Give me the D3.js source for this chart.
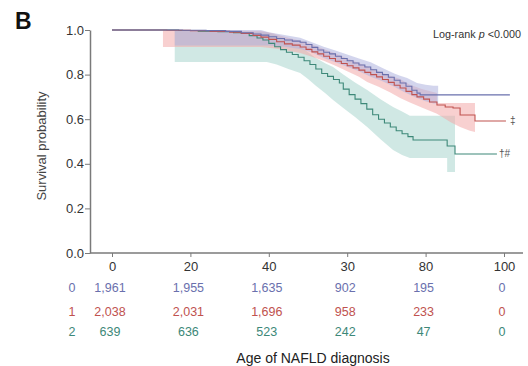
<!DOCTYPE html>
<html>
<head>
<meta charset="utf-8">
<script src="https://cdn.jsdelivr.net/npm/d3@7"></script>
<style>
  body { margin: 0; background: #fff; }
  svg { display: block; font-family: Arial, "Liberation Sans", sans-serif; }
</style>
</head>
<body>
<svg id="chart" width="528" height="366"></svg>
<script>
// x ticks (the source figure prints "30" where 60 should be)
const tickAges = [0, 20, 40, 60, 80, 100];
const tickLabels = ['0', '20', '40', '30', '80', '100'];
const yTicks = [0, 0.2, 0.4, 0.6, 0.8, 1.0];

const groupNames = ['0', '1', '2'];
const groupColors = ['#6a70ad', '#c0524f', '#3d8878'];
const bandColors = ['#aeb3df', '#f2aaaa', '#a9d6cd'];
const endMarks = ['', '‡', '†#'];

// numbers at risk
const atRisk0 = [1961, 1955, 1635, 902, 195, 0];
const atRisk1 = [2038, 2031, 1696, 958, 233, 0];
const atRisk2 = [639, 636, 523, 242, 47, 0];

// KM curves [age, survival]
const surv0 = [[0,1],[18,0.999],[24,0.997],[29,0.994],[33,0.988],[36,0.982],[38,0.977],[40,0.97],[42,0.962],[44,0.955],[46,0.95],[48,0.945],[49.5,0.935],[51,0.922],[52.5,0.91],[54,0.9],[55.5,0.893],[57,0.882],[58.5,0.872],[60,0.862],[61.5,0.852],[63,0.843],[64.5,0.834],[66,0.822],[67.5,0.81],[69,0.8],[70.5,0.788],[72,0.775],[73.5,0.762],[75,0.748],[76.5,0.73],[77.8,0.717],[78.6,0.709],[101.5,0.709]];
const surv1 = [[0,1],[14,0.999],[20,0.997],[25,0.994],[30,0.99],[33,0.985],[36,0.976],[38,0.968],[40,0.958],[42,0.947],[44,0.938],[46,0.932],[48,0.924],[49.5,0.913],[51,0.902],[52.5,0.893],[54,0.882],[55.5,0.872],[57,0.86],[58.5,0.85],[60,0.84],[61.5,0.83],[63,0.82],[64.5,0.81],[66,0.8],[67.5,0.79],[69,0.778],[70.5,0.765],[72,0.752],[73.5,0.74],[75,0.725],[76.5,0.71],[77.8,0.7],[79.5,0.69],[81,0.677],[82.9,0.664],[85,0.655],[87,0.65],[88.8,0.619],[92.6,0.592],[100.5,0.592]];
const surv2 = [[0,1],[17,0.998],[22,0.995],[27,0.992],[31,0.988],[33,0.984],[35,0.975],[37,0.964],[38.5,0.955],[40,0.94],[41.5,0.925],[43,0.912],[44.5,0.9],[46,0.89],[47.5,0.878],[49,0.862],[50.5,0.845],[52,0.825],[53.5,0.805],[55,0.792],[56.5,0.778],[58,0.762],[59,0.735],[60.5,0.71],[62,0.69],[63.5,0.67],[65,0.645],[66.5,0.62],[68,0.6],[69.5,0.583],[71,0.565],[72.5,0.548],[74,0.535],[75.5,0.522],[76.8,0.507],[85.5,0.48],[87.5,0.444],[98.2,0.444]];

// confidence bands [age, lower, upper]
const band0 = [[16,0.93,1],[38,0.93,1],[40,0.93,0.99],[44,0.925,0.978],[48,0.915,0.965],[51,0.9,0.945],[54,0.875,0.925],[57,0.855,0.908],[60,0.835,0.89],[63,0.815,0.872],[66,0.79,0.855],[69,0.77,0.83],[72,0.745,0.805],[73.5,0.731,0.795],[75.3,0.715,0.785],[77.8,0.695,0.762],[80,0.68,0.755],[82,0.67,0.75],[83.2,0.67,0.75]];
const band1 = [[13,0.924,1],[38,0.924,0.995],[41,0.918,0.985],[44,0.91,0.97],[48,0.897,0.952],[51,0.88,0.935],[54,0.862,0.915],[57,0.84,0.895],[60,0.815,0.872],[63,0.79,0.852],[65.1,0.767,0.836],[68,0.745,0.815],[71,0.72,0.795],[73.5,0.695,0.78],[76,0.675,0.755],[79,0.652,0.735],[82.9,0.625,0.717],[82.9,0.625,0.673],[86.5,0.585,0.673],[88.8,0.565,0.673],[91.3,0.548,0.673],[92.6,0.543,0.673]];
const band2 = [[16,0.857,1],[39.5,0.857,0.99],[42,0.845,0.975],[45,0.825,0.955],[48,0.807,0.925],[50,0.78,0.9],[52,0.75,0.875],[54.5,0.715,0.85],[56.4,0.686,0.834],[59,0.65,0.8],[62,0.61,0.765],[65.1,0.565,0.731],[68.5,0.51,0.69],[71.7,0.462,0.655],[74,0.44,0.635],[76,0.426,0.615],[85.5,0.426,0.615],[85.5,0.363,0.615],[87.5,0.363,0.615]];

const survs = [surv0, surv1, surv2];
const bands = [band0, band1, band2];
const atRisk = [atRisk0, atRisk1, atRisk2];

const svg = d3.select('#chart');
const x = d3.scaleLinear().domain([0, 100]).range([112, 504]);
const y = d3.scaleLinear().domain([0, 1]).range([253, 30]);
const axisColor = '#7a7a7a';
const textColor = '#333';

// panel letter
svg.append('text')
  .attr('x', 15).attr('y', 29)
  .attr('font-size', 23).attr('font-weight', 'bold')
  .attr('fill', '#111')
  .text('B');

// bands
const area = d3.area()
  .x(d => x(d[0]))
  .y0(d => y(d[1]))
  .y1(d => y(d[2]));

[2, 1, 0].forEach(i => {
  svg.append('path')
    .attr('d', area(bands[i]))
    .attr('fill', bandColors[i])
    .attr('fill-opacity', 0.55);
});

// curves
const line = d3.line()
  .curve(d3.curveStepAfter)
  .x(d => x(d[0]))
  .y(d => y(d[1]));

[2, 1, 0].forEach(i => {
  svg.append('path')
    .attr('d', line(survs[i]))
    .attr('fill', 'none')
    .attr('stroke', groupColors[i])
    .attr('stroke-width', 1.1);
});

// end markers
[1, 2].forEach(i => {
  const last = survs[i][survs[i].length - 1];
  svg.append('text')
    .attr('x', x(last[0]) + (i === 1 ? 4 : 2))
    .attr('y', y(last[1]) + 3.5)
    .attr('font-size', 10)
    .attr('fill', '#555')
    .text(endMarks[i]);
});

// y axis
const yAxis = svg.append('g')
  .attr('transform', 'translate(90,0)')
  .call(d3.axisLeft(y).tickValues(yTicks).tickFormat(d3.format('.1f')).tickSize(5).tickSizeOuter(0).tickPadding(1));
yAxis.select('.domain').attr('stroke', axisColor).attr('stroke-width', 1.5);
yAxis.selectAll('.tick line').attr('stroke', axisColor);
yAxis.selectAll('.tick text').attr('font-size', 13).attr('fill', textColor).attr('font-family', null);

// x axis
const xAxis = svg.append('g')
  .attr('transform', 'translate(0,253)')
  .call(d3.axisBottom(x).tickValues(tickAges).tickFormat((d, i) => tickLabels[i]).tickSize(4).tickPadding(5));
xAxis.select('.domain').remove();
xAxis.append('line')
  .attr('x1', 90).attr('x2', 523)
  .attr('stroke', axisColor).attr('stroke-width', 1.5);
xAxis.selectAll('.tick line').attr('stroke', axisColor);
xAxis.selectAll('.tick text').attr('font-size', 13).attr('fill', textColor).attr('font-family', null);

// y title
svg.append('text')
  .attr('transform', 'translate(46,146) rotate(-90)')
  .attr('text-anchor', 'middle')
  .attr('font-size', 13)
  .attr('fill', '#444')
  .text('Survival probability');

// log-rank note
const note = svg.append('text')
  .attr('x', 433).attr('y', 38)
  .attr('font-size', 10.8)
  .attr('fill', '#333');
note.append('tspan').text('Log-rank ');
note.append('tspan').attr('font-style', 'italic').text('p');
note.append('tspan').text(' <0.000');

// numbers at risk
const rowY = [292, 316, 336];
groupNames.forEach((g, i) => {
  svg.append('text')
    .attr('x', 72).attr('y', rowY[i])
    .attr('text-anchor', 'middle')
    .attr('font-size', 12.5)
    .attr('fill', groupColors[i])
    .text(g);
  svg.selectAll(null)
    .data(atRisk[i])
    .enter()
    .append('text')
    .attr('x', (d, j) => x(tickAges[j]) - 2)
    .attr('y', rowY[i])
    .attr('text-anchor', 'middle')
    .attr('font-size', 12.5)
    .attr('fill', groupColors[i])
    .text(d => d3.format(',')(d));
});

// x title
svg.append('text')
  .attr('x', 313).attr('y', 363)
  .attr('text-anchor', 'middle')
  .attr('font-size', 14)
  .attr('fill', '#222')
  .text('Age of NAFLD diagnosis');
</script>
</body>
</html>
